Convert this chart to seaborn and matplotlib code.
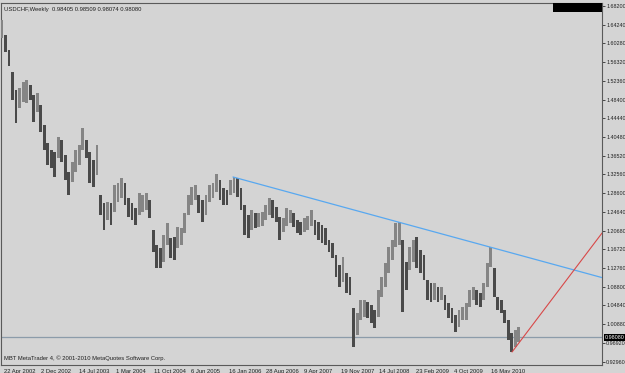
import numpy as np
import pandas as pd
import matplotlib
matplotlib.use("Agg")
import matplotlib.pyplot as plt
import matplotlib.transforms as mtransforms
from matplotlib.patches import Rectangle
import seaborn as sns

# ---------------- data ----------------
# one sample every 3 weekly bars, starting at bar 0 (22 Apr 2002)
bar_step = 3
highs = [1.6524, 1.6207, 1.5889, 1.5424, 1.5043, 1.5085, 1.5212, 1.5255, 1.5149, 1.4937,
         1.4980, 1.4726, 1.4303, 1.3922, 1.3774, 1.3731, 1.4049, 1.3985, 1.3668, 1.3308,
         1.3520, 1.3774, 1.3880, 1.4239, 1.3985, 1.3731, 1.3562, 1.3880, 1.2822, 1.2653,
         1.2674, 1.2653, 1.3033, 1.3076, 1.3181, 1.3076, 1.2758, 1.2653, 1.2547, 1.2864,
         1.2822, 1.2864, 1.2716, 1.2081, 1.1764, 1.1701, 1.1976, 1.2229, 1.1912, 1.1933,
         1.2145, 1.2124, 1.2441, 1.2822, 1.2991, 1.3033, 1.2822, 1.2716, 1.2822, 1.3033,
         1.3076, 1.3266, 1.3139, 1.2970, 1.2928, 1.3139, 1.3203, 1.3181, 1.2970, 1.2610,
         1.2399, 1.2504, 1.2441, 1.2441, 1.2462, 1.2610, 1.2758, 1.2716, 1.2568, 1.2356,
         1.2335, 1.2547, 1.2504, 1.2441, 1.2293, 1.2251, 1.2335, 1.2378, 1.2504, 1.2293,
         1.2251, 1.2187, 1.2124, 1.1870, 1.1806, 1.1552, 1.1341, 1.1510, 1.1172, 1.1087,
         1.0431, 1.0325, 1.0600, 1.0600, 1.0558, 1.0495, 1.0389, 1.0812, 1.1087, 1.1383,
         1.1722, 1.1870, 1.2229, 1.2251, 1.1870, 1.1404, 1.1722, 1.1870, 1.1933, 1.1658,
         1.1552, 1.1024, 1.0960, 1.0960, 1.0876, 1.0876, 1.0706, 1.0537, 1.0431, 1.0283,
         1.0389, 1.0452, 1.0537, 1.0812, 1.0876, 1.0812, 1.0749, 1.0960, 1.1383, 1.1722,
         1.1277, 1.0664, 1.0600, 1.0389, 1.0177, 0.9902, 0.9966, 1.0029]
lows = [1.6143, 1.5847, 1.5551, 1.4831, 1.4345, 1.4662, 1.4789, 1.4768, 1.4831, 1.4366,
        1.4578, 1.4155, 1.3774, 1.3456, 1.3393, 1.3203, 1.3605, 1.3520, 1.3139, 1.2822,
        1.3097, 1.3308, 1.3456, 1.3774, 1.3605, 1.3076, 1.2991, 1.3245, 1.2399, 1.2081,
        1.2293, 1.2187, 1.2462, 1.2674, 1.2758, 1.2610, 1.2356, 1.2293, 1.2187, 1.2399,
        1.2462, 1.2504, 1.2335, 1.1616, 1.1277, 1.1277, 1.1404, 1.1764, 1.1489, 1.1447,
        1.1701, 1.1764, 1.2018, 1.2399, 1.2610, 1.2716, 1.2441, 1.2251, 1.2399, 1.2674,
        1.2758, 1.2885, 1.2716, 1.2610, 1.2610, 1.2822, 1.2864, 1.2779, 1.2504, 1.1976,
        1.1912, 1.2081, 1.2124, 1.2145, 1.2166, 1.2293, 1.2399, 1.2335, 1.2251, 1.1870,
        1.2039, 1.2166, 1.2229, 1.2145, 1.2018, 1.1976, 1.2039, 1.2081, 1.2166, 1.1976,
        1.1870, 1.1806, 1.1764, 1.1616, 1.1489, 1.1087, 1.0876, 1.0981, 1.0749, 1.0706,
        0.9606, 0.9860, 1.0177, 1.0241, 1.0220, 1.0114, 1.0008, 1.0241, 1.0664, 1.0876,
        1.1172, 1.1447, 1.1722, 1.1764, 1.0347, 1.0812, 1.1235, 1.1404, 1.1277, 1.1172,
        1.1024, 1.0600, 1.0558, 1.0600, 1.0558, 1.0600, 1.0389, 1.0220, 1.0114, 0.9924,
        1.0029, 1.0177, 1.0177, 1.0452, 1.0600, 1.0495, 1.0452, 1.0600, 1.0876, 1.1299,
        1.0664, 1.0389, 1.0325, 1.0114, 0.9754, 0.9500, 0.9606, 0.9712]

date_labels = ["22 Apr 2002", "2 Dec 2002", "14 Jul 2003", "1 Mar 2004", "11 Oct 2004",
               "6 Jun 2005", "16 Jan 2006", "28 Aug 2006", "9 Apr 2007", "19 Nov 2007",
               "14 Jul 2008", "23 Feb 2009", "4 Oct 2009", "16 May 2010"]
label_every = 32  # bars between date labels

price_ticks = [1.68200, 1.64240, 1.60280, 1.56320, 1.52360, 1.48400, 1.44440, 1.40480,
               1.36520, 1.32560, 1.28600, 1.24640, 1.20680, 1.16720, 1.12760, 1.08800,
               1.04840, 1.00880, 0.96920, 0.92960]

bid = 0.98080
title = "USDCHF,Weekly  0.98405 0.98509 0.98074 0.98080"
footer = "MBT MetaTrader 4, \u00a9 2001-2010 MetaQuotes Software Corp."

# trend lines: (bar index, price)
blue_bars = [197.1, 337.9]
blue_prices = [1.3203, 1.2251]
red_bars = [435.2, 512.0]
red_prices = [0.9500, 1.2018]

# ---------------- figure ----------------
sns.set_style("white")
plt.rcParams["font.family"] = ["Liberation Sans Narrow", "Liberation Sans", "DejaVu Sans"]
FS = 4.2
FSY = 3.9
BG = "#d4d4d4"

W, H = 625, 373
fig = plt.figure(figsize=(W / 100, H / 100), dpi=100, facecolor=BG)
ax = fig.add_axes([1 / W, 8 / H, 601 / W, 362 / H], facecolor=BG)

n = len(highs)
idx = np.arange(n) * bar_step
hi = np.array(highs)
lo = np.array(lows)
mid = (hi + lo) / 2
up = np.r_[True, mid[1:] >= mid[:-1]]
colors = np.where(up, "#858585", "#4a4a4a")

df = pd.DataFrame({"bar": idx, "high": hi, "low": lo})
ax.bar(df["bar"], df["high"] - df["low"], bottom=df["low"], width=bar_step * 0.8,
       color=colors, linewidth=0, zorder=3)

# extend trend line to right edge
xmin, xmax = (1 - 2) / 1.172, (602 - 2) / 1.172
slope = (blue_prices[1] - blue_prices[0]) / (blue_bars[1] - blue_bars[0])
bx = [blue_bars[0], xmax]
by = [blue_prices[0], blue_prices[0] + slope * (xmax - blue_bars[0])]
sns.lineplot(x=bx, y=by, ax=ax, color="#58a8f0", lw=0.9, zorder=4)
sns.lineplot(x=red_bars, y=red_prices, ax=ax, color="#d84848", lw=0.8, zorder=4)
ax.axhline(bid, color="#8c9caa", lw=0.9, zorder=2)

ax.set_xlim(xmin, xmax)
ax.set_ylim(0.9225, 1.6884)

for s in ax.spines.values():
    s.set_color("#5a5a5a")
    s.set_linewidth(0.8)

ax.yaxis.tick_right()
ax.set_yticks(price_ticks)
ax.set_yticklabels([f"{v:.5f}" for v in price_ticks], fontsize=FSY, color="#202020")
ax.tick_params(axis="y", length=2, width=0.6, color="#303030", pad=1.0)

xt = np.arange(len(date_labels)) * label_every
ax.set_xticks(xt)
ax.set_xticklabels(date_labels, fontsize=FS, color="#202020", ha="left")
ax.tick_params(axis="x", length=2.5, width=0.6, color="#303030", pad=0.5)
off = mtransforms.ScaledTranslation(1.5 / 100, 0, fig.dpi_scale_trans)
for lab in ax.get_xticklabels():
    lab.set_transform(lab.get_transform() + off)

ax.text(3 / 601, 1 - 4 / 362, title, transform=ax.transAxes, fontsize=FS,
        color="#202020", va="top", ha="left", zorder=6)
ax.text(3 / 601, 1 - 355 / 362, footer, transform=ax.transAxes, fontsize=FS,
        color="#202020", va="center", ha="left", zorder=6)

# black box top-right
fig.patches.append(Rectangle((553 / W, 1 - 12 / H), 49 / W, 9 / H, transform=fig.transFigure,
                             facecolor="black", edgecolor="none", zorder=5))

# current price label on the right axis
trans = mtransforms.blended_transform_factory(fig.transFigure, ax.transData)
ax.text(604.5 / W, bid, f"{bid:.5f}", transform=trans, fontsize=FSY, color="white",
        va="center", ha="left", zorder=10, clip_on=False,
        bbox=dict(boxstyle="square,pad=0.15", facecolor="black", edgecolor="none"))

fig.savefig("out.png", dpi=100, facecolor=BG)
